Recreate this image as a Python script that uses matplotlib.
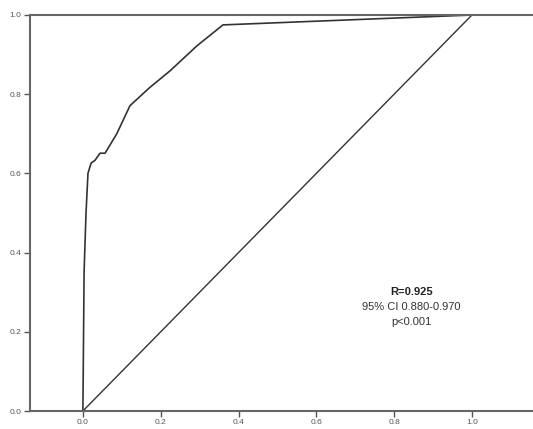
import matplotlib
matplotlib.use("Agg")
from matplotlib import pyplot as plt

# ROC curve (1 - specificity, sensitivity)
fpr = [0.0, 0.003, 0.008, 0.013, 0.021, 0.031, 0.044, 0.057, 0.087,
       0.121, 0.172, 0.224, 0.293, 0.36, 1.0]
tpr = [0.0, 0.35, 0.50, 0.60, 0.626, 0.633, 0.651, 0.651, 0.70,
       0.771, 0.817, 0.859, 0.922, 0.975, 1.0]

ref_x = [0.0, 1.0]
ref_y = [0.0, 1.0]

ticks = [0.0, 0.2, 0.4, 0.6, 0.8, 1.0]
tick_labels = ["0.0", "0.2", "0.4", "0.6", "0.8", "1.0"]

plt.rcParams["font.family"] = ["Liberation Sans", "DejaVu Sans"]

fig = plt.figure(figsize=(5.33, 4.29), dpi=100)
ax = fig.add_axes([30 / 533, 18 / 429, 1 - 30 / 533, (411 - 15) / 429])

ax.plot(fpr, tpr, color="#333333", linewidth=1.2)
ax.plot(ref_x, ref_y, color="#333333", linewidth=1.0)

ax.set_xlim(-0.136, 1.157)
ax.set_ylim(0, 1)
ax.set_xticks(ticks)
ax.set_xticklabels(tick_labels)
ax.set_yticks(ticks)
ax.set_yticklabels(tick_labels)
ax.tick_params(axis="both", labelsize=6, colors="#555555", length=4, width=1, pad=2)

for side in ["left", "bottom", "top"]:
    ax.spines[side].set_color("#666666")
    ax.spines[side].set_linewidth(1.5)
ax.spines["right"].set_visible(False)

ax.text(0.845, 0.30, "R=0.925", fontsize=8, fontweight="bold", color="#222222",
        ha="center", va="center")
ax.text(0.845, 0.262, "95% CI 0.880-0.970", fontsize=8, color="#333333",
        ha="center", va="center")
ax.text(0.845, 0.224, "p<0.001", fontsize=8, color="#333333",
        ha="center", va="center")

fig.savefig("out.png", dpi=100)
